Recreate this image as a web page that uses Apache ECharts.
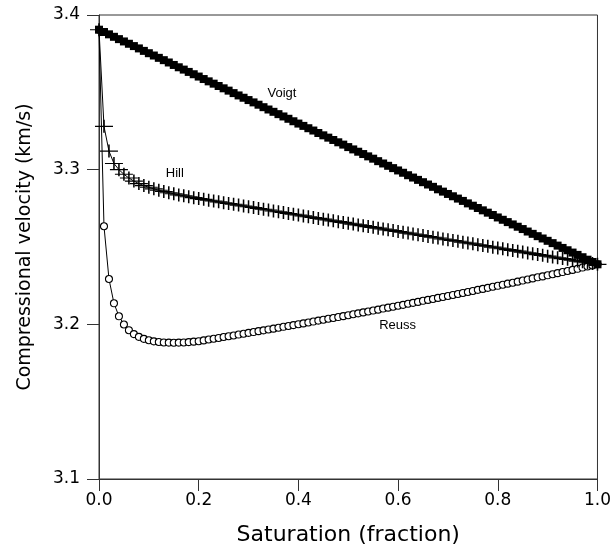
<!DOCTYPE html>
<html>
<head>
<meta charset="utf-8">
<script src="https://cdn.jsdelivr.net/npm/echarts@6/dist/echarts.min.js"></script>
<style>
  html, body { margin: 0; padding: 0; background: #fff; }
  #chart { width: 614px; height: 552px; }
</style>
</head>
<body>
<div id="chart"></div>
<script>
// Gas saturation, step 0.01 from 0 to 1
const saturation = [];
for (let i = 0; i <= 100; i++) saturation.push(+(i / 100).toFixed(2));

// P-wave velocity bounds (km/s)
const voigt = [
  3.3905, 3.3890, 3.3875, 3.3859, 3.3844, 3.3829, 3.3814, 3.3799, 3.3784, 3.3768,
  3.3753, 3.3738, 3.3723, 3.3708, 3.3693, 3.3677, 3.3662, 3.3647, 3.3632, 3.3617,
  3.3602, 3.3586, 3.3571, 3.3556, 3.3541, 3.3526, 3.3511, 3.3495, 3.3480, 3.3465,
  3.3450, 3.3435, 3.3420, 3.3404, 3.3389, 3.3374, 3.3359, 3.3344, 3.3329, 3.3313,
  3.3298, 3.3283, 3.3268, 3.3253, 3.3237, 3.3222, 3.3207, 3.3192, 3.3177, 3.3162,
  3.3146, 3.3131, 3.3116, 3.3101, 3.3086, 3.3071, 3.3055, 3.3040, 3.3025, 3.3010,
  3.2995, 3.2980, 3.2964, 3.2949, 3.2934, 3.2919, 3.2904, 3.2889, 3.2873, 3.2858,
  3.2843, 3.2828, 3.2813, 3.2798, 3.2782, 3.2767, 3.2752, 3.2737, 3.2722, 3.2707,
  3.2691, 3.2676, 3.2661, 3.2646, 3.2631, 3.2616, 3.2600, 3.2585, 3.2570, 3.2555,
  3.2540, 3.2525, 3.2509, 3.2494, 3.2479, 3.2464, 3.2449, 3.2434, 3.2418, 3.2403,
  3.2388
];

const hill = [
  3.3905, 3.3280, 3.3120, 3.3040, 3.3000, 3.2970, 3.2946, 3.2926, 3.2910, 3.2897,
  3.2886, 3.2876, 3.2867, 3.2859, 3.2851, 3.2844, 3.2837, 3.2831, 3.2825, 3.2819,
  3.2813, 3.2808, 3.2802, 3.2797, 3.2792, 3.2786, 3.2781, 3.2776, 3.2771, 3.2765,
  3.2760, 3.2755, 3.2749, 3.2744, 3.2739, 3.2733, 3.2728, 3.2723, 3.2717, 3.2712,
  3.2707, 3.2701, 3.2696, 3.2691, 3.2685, 3.2680, 3.2675, 3.2669, 3.2664, 3.2659,
  3.2654, 3.2648, 3.2643, 3.2638, 3.2632, 3.2627, 3.2622, 3.2616, 3.2611, 3.2606,
  3.2600, 3.2595, 3.2590, 3.2584, 3.2579, 3.2574, 3.2568, 3.2563, 3.2558, 3.2552,
  3.2547, 3.2542, 3.2537, 3.2531, 3.2526, 3.2521, 3.2515, 3.2510, 3.2505, 3.2499,
  3.2494, 3.2489, 3.2483, 3.2478, 3.2473, 3.2467, 3.2462, 3.2457, 3.2451, 3.2446,
  3.2441, 3.2435, 3.2430, 3.2425, 3.2420, 3.2414, 3.2409, 3.2404, 3.2398, 3.2393,
  3.2388
];

const reuss = [
  3.3905, 3.2634, 3.2293, 3.2136, 3.2052, 3.1999, 3.1962, 3.1937, 3.1919, 3.1906,
  3.1897, 3.1890, 3.1886, 3.1883, 3.1882, 3.1881, 3.1882, 3.1883, 3.1885, 3.1888,
  3.1891, 3.1896, 3.1902, 3.1907, 3.1912, 3.1918, 3.1923, 3.1928, 3.1934, 3.1939,
  3.1945, 3.1950, 3.1956, 3.1961, 3.1967, 3.1972, 3.1978, 3.1984, 3.1989, 3.1995,
  3.2001, 3.2006, 3.2012, 3.2018, 3.2024, 3.2030, 3.2036, 3.2041, 3.2047, 3.2053,
  3.2059, 3.2065, 3.2071, 3.2077, 3.2083, 3.2089, 3.2095, 3.2102, 3.2108, 3.2114,
  3.2120, 3.2126, 3.2133, 3.2139, 3.2145, 3.2152, 3.2158, 3.2164, 3.2171, 3.2177,
  3.2183, 3.2190, 3.2196, 3.2203, 3.2209, 3.2216, 3.2223, 3.2229, 3.2236, 3.2243,
  3.2249, 3.2256, 3.2263, 3.2269, 3.2276, 3.2283, 3.2290, 3.2297, 3.2304, 3.2310,
  3.2317, 3.2324, 3.2331, 3.2338, 3.2345, 3.2352, 3.2359, 3.2367, 3.2374, 3.2381,
  3.2388
];

// Curve annotations: [text, saturation, velocity]
const curveNotes = [
  ['Voigt', 0.367, 3.3494],
  ['Hill', 0.152, 3.2977],
  ['Reuss', 0.599, 3.1994]
];

const xTicks = { min: 0, max: 1, step: 0.2 };
const yTicks = { min: 3.1, max: 3.4, step: 0.1 };

const pairs = (ys) => saturation.map((x, i) => [x, ys[i]]);
const axisFont = 'DejaVu Sans';
const axisColor = '#333';

const chart = echarts.init(document.getElementById('chart'), null, { renderer: 'canvas' });
chart.setOption({
  animation: false,
  backgroundColor: '#ffffff',
  grid: {
    left: 99, right: 16, top: 15, bottom: 73,
    show: true, borderColor: axisColor, borderWidth: 1, backgroundColor: 'transparent'
  },
  xAxis: {
    type: 'value',
    min: xTicks.min, max: xTicks.max, interval: xTicks.step,
    name: 'Saturation (fraction)',
    nameLocation: 'middle', nameGap: 45,
    nameTextStyle: { fontFamily: axisFont, fontSize: 22, color: '#000' },
    axisLine: { show: true, onZero: false, lineStyle: { color: axisColor, width: 1 } },
    axisTick: { show: true, inside: false, length: 12, lineStyle: { color: axisColor, width: 1 } },
    axisLabel: {
      margin: 13, fontFamily: axisFont, fontSize: 17, color: '#000',
      formatter: (v) => v.toFixed(1)
    },
    splitLine: { show: false }
  },
  yAxis: {
    type: 'value',
    min: yTicks.min, max: yTicks.max, interval: yTicks.step,
    name: 'Compressional velocity (km/s)',
    nameLocation: 'middle', nameGap: 64,
    nameTextStyle: { fontFamily: axisFont, fontSize: 19, color: '#000' },
    axisLine: { show: true, onZero: false, lineStyle: { color: axisColor, width: 1 } },
    axisTick: { show: true, inside: false, length: 12, lineStyle: { color: axisColor, width: 1 } },
    axisLabel: {
      margin: 19, fontFamily: axisFont, fontSize: 17, color: '#000',
      padding: [6, 0, 0, 0],
      formatter: (v) => v.toFixed(1)
    },
    splitLine: { show: false }
  },
  series: [
    {
      name: 'Reuss', type: 'line', clip: false,
      data: pairs(reuss),
      lineStyle: { color: '#000', width: 1 },
      symbol: 'circle', symbolSize: 7,
      itemStyle: { color: '#fff', borderColor: '#000', borderWidth: 1.1 },
      z: 2
    },
    {
      name: 'Hill', type: 'line', clip: false,
      data: pairs(hill),
      lineStyle: { color: '#000', width: 1 },
      symbol: 'path://M0,6.5L18,6.5M9,0L9,13', symbolSize: [18, 13], symbolKeepAspect: false,
      itemStyle: { color: 'rgba(0,0,0,0)', borderColor: '#000', borderWidth: 1.3 },
      z: 3
    },
    {
      name: 'Voigt', type: 'line', clip: false,
      data: pairs(voigt),
      lineStyle: { color: '#000', width: 1 },
      symbol: 'rect', symbolSize: 8,
      itemStyle: { color: '#000', borderColor: '#000', borderWidth: 0 },
      z: 4,
      markPoint: {
        symbol: 'circle', symbolSize: 0,
        label: {
          show: true, position: 'inside', color: '#000',
          fontFamily: 'Liberation Sans', fontSize: 13,
          formatter: (p) => p.name
        },
        data: curveNotes.map(([t, x, y]) => ({ name: t, coord: [x, y] }))
      }
    }
  ]
});
</script>
</body>
</html>
